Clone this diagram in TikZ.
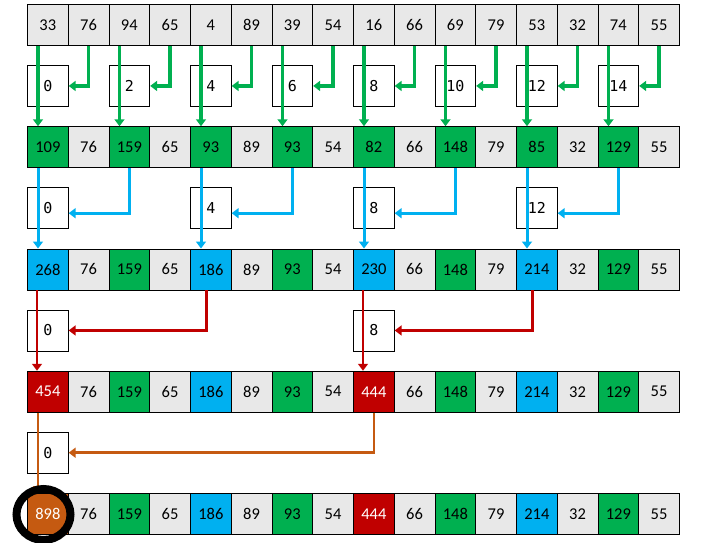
\documentclass[tikz,border=0pt]{standalone}
\usepackage{fontspec}
\setmainfont{Carlito}
\newfontfamily\monof{DejaVu Sans Mono}
\usetikzlibrary{arrows.meta}
\definecolor{cgray}{HTML}{E8E8E8}
\definecolor{cgreen}{HTML}{00B050}
\definecolor{cblue}{HTML}{00B0F0}
\definecolor{cred}{HTML}{C00000}
\definecolor{corange}{HTML}{C55A11}
\begin{document}
\begin{tikzpicture}[x=1pt,y=-1pt,
  cell/.style={draw=black, line width=0.9pt, minimum width=40.75pt, minimum height=41pt,
    inner sep=0pt, anchor=north west, font=\fontsize{16.5}{19}\selectfont},
  gy/.style={fill=cgray},
  gn/.style={fill=cgreen},
  bl/.style={fill=cblue},
  rd/.style={fill=cred, text=white},
  og/.style={fill=corange, text=white},
  ibox/.style={draw=black, line width=0.9pt, fill=white, minimum width=40.75pt, minimum height=41pt,
    inner sep=0pt, anchor=north west, font=\monof\fontsize{15}{17}\selectfont},
  arr/.style={line width=3.2pt, -{Triangle[width=10pt,length=7pt]}},
  garr/.style={arr, draw=cgreen},
  barr/.style={arr, draw=cblue, line width=3pt},
  rarr/.style={arr, draw=cred, line width=2.8pt},
  oarr/.style={arr, draw=corange, line width=2.5pt}
]
\useasboundingbox (0,0) rectangle (704,543);

% rows of cells
\foreach \v [count=\i from 0] in {33,76,94,65,4,89,39,54,16,66,69,79,53,32,74,55}
  \node[cell,gy] (r1c\i) at (27+40.75*\i,4) {\v};
\foreach \v/\s [count=\i from 0] in {109/gn,76/gy,159/gn,65/gy,93/gn,89/gy,93/gn,54/gy,82/gn,66/gy,148/gn,79/gy,85/gn,32/gy,129/gn,55/gy}
  \node[cell,\s] (r2c\i) at (27+40.75*\i,126.25) {\v};
\foreach \v/\s [count=\i from 0] in {268/bl,76/gy,159/gn,65/gy,186/bl,89/gy,93/gn,54/gy,230/bl,66/gy,148/gn,79/gy,214/bl,32/gy,129/gn,55/gy}
  \node[cell,\s] (r3c\i) at (27+40.75*\i,248.5) {\v};
\foreach \v/\s [count=\i from 0] in {454/rd,76/gy,159/gn,65/gy,186/bl,89/gy,93/gn,54/gy,444/rd,66/gy,148/gn,79/gy,214/bl,32/gy,129/gn,55/gy}
  \node[cell,\s] (r4c\i) at (27+40.75*\i,370.75) {\v};
\foreach \v/\s [count=\i from 0] in {898/og,76/gy,159/gn,65/gy,186/bl,89/gy,93/gn,54/gy,444/rd,66/gy,148/gn,79/gy,214/bl,32/gy,129/gn,55/gy}
  \node[cell,\s] (r5c\i) at (27+40.75*\i,493) {\v};

% index boxes
\foreach \k in {0,2,...,14}
  \node[ibox] (b1c\k) at (27+40.75*\k,65) {\k};
\foreach \k in {0,4,8,12}
  \node[ibox] (b2c\k) at (27+40.75*\k,187.25) {\k};
\foreach \k in {0,8}
  \node[ibox] (b3c\k) at (27+40.75*\k,309.5) {\k};
\node[ibox] (b4c0) at (27,431.75) {0};

% level 1 (green)
\foreach \k in {0,2,...,14} {
  \pgfmathtruncatemacro\j{\k+1}
  \draw[garr] ([xshift=11pt]r1c\k.south west) -- ([xshift=11pt]r2c\k.north west);
  \draw[garr] (r1c\j.south) |- (b1c\k.east);
}
% level 2 (blue)
\foreach \k in {0,4,8,12} {
  \pgfmathtruncatemacro\j{\k+2}
  \draw[barr] ([xshift=11pt]r2c\k.south west) -- ([xshift=11pt]r3c\k.north west);
  \draw[barr] (r2c\j.south) |- ([yshift=-5pt]b2c\k.east);
}
% level 3 (red)
\foreach \k in {0,8} {
  \pgfmathtruncatemacro\j{\k+4}
  \draw[rarr] ([xshift=10pt]r3c\k.south west) -- ([xshift=10pt]r4c\k.north west);
  \draw[rarr] ([xshift=-4pt]r3c\j.south) |- (b3c\k.east);
}
% level 4 (orange)
\draw[oarr] ([xshift=11pt]r4c0.south west) -- ([xshift=11pt]r5c0.north west);
\draw[oarr] (r4c8.south) |- (b4c0.east);

% highlight ring
\draw[line width=8pt] (43.5,514.5) ellipse [x radius=27, y radius=25.5];
\end{tikzpicture}
\end{document}
